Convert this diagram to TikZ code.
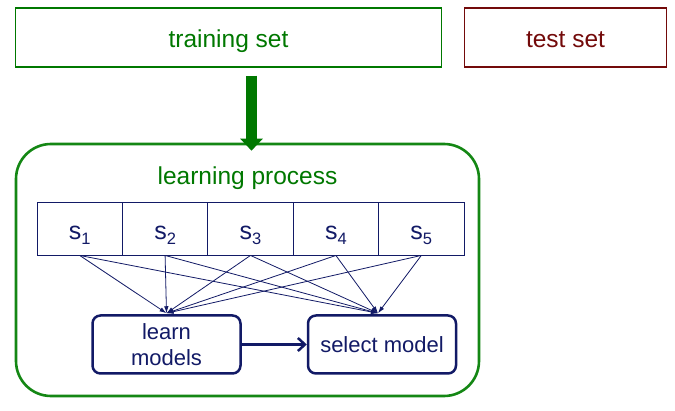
\documentclass[tikz,border=0pt]{standalone}
\usepackage{fontspec}
\setmainfont{Liberation Sans}
\usetikzlibrary{arrows.meta}
\definecolor{tgreen}{RGB}{0,120,0}
\definecolor{ogreen}{RGB}{20,135,20}
\definecolor{maroon}{RGB}{115,10,10}
\definecolor{navy}{RGB}{18,26,102}
\newcommand{\sfs}[1]{s\raisebox{-5pt}{\fontsize{16.5}{18}\selectfont #1}}
\begin{document}
\begin{tikzpicture}[x=1pt,y=-1pt,
  setbox/.style={draw, line width=1.2pt, minimum height=59pt, inner sep=0pt,
    text height=21pt, text depth=0pt,
    font=\fontsize{24.5}{28}\selectfont},
  sbox/.style={draw=navy, line width=0.9pt, minimum width=85.4pt, minimum height=53pt,
    inner sep=0pt, text=navy, text height=23pt, text depth=0pt,
    font=\fontsize{25}{28}\selectfont},
  procbox/.style={draw=navy, line width=2.5pt, rounded corners=8pt, minimum width=148pt,
    minimum height=58pt, inner sep=0pt, text=navy, align=center,
    font=\fontsize{22}{26}\selectfont},
  thin/.style={draw=navy, line width=0.8pt, -{Latex[length=7pt,width=4.5pt]}}
]
\useasboundingbox (0,0) rectangle (675,411);
\fill[white] (0,0) rectangle (675,411);
% top boxes
\node[setbox, draw=tgreen, text=tgreen, minimum width=426pt] (train) at (228.5,37.5) {training set};
\node[setbox, draw=maroon, text=maroon, minimum width=202pt] (test) at (565.5,37.5) {test set};
% outer process box
\node[draw=ogreen, line width=2.6pt, rounded corners=35pt, minimum width=463pt,
  minimum height=252pt, inner sep=0pt] (proc) at (247.5,270) {};
\node[text=tgreen, font=\fontsize{24.5}{28}\selectfont] (ptitle) at (247.5,178.5) {learning process};
% big green arrow
\draw[draw=tgreen, line width=11pt, -{Triangle[length=12pt,width=22pt]}]
  ([xshift=23pt,yshift=-8pt]train.south) -- ([xshift=4pt,yshift=-8pt]proc.north);
% s boxes
\node[sbox] (s1) at (79.7,228.5) {\sfs{1}};
\node[sbox] (s2) at (165.1,228.5) {\sfs{2}};
\node[sbox] (s3) at (250.5,228.5) {\sfs{3}};
\node[sbox] (s4) at (335.9,228.5) {\sfs{4}};
\node[sbox] (s5) at (421.3,228.5) {\sfs{5}};
% bottom boxes
\node[procbox] (learn) at (166.5,344.5) {learn\\models};
\node[procbox] (select) at (382,344.5) {select model};
\coordinate (lt) at ([yshift=1pt]learn.north);
\coordinate (st) at ([xshift=-4pt,yshift=1pt]select.north);
% thin connectors
\foreach \s in {s1,s2,s3,s4,s5}{
  \draw[thin] (\s.south) -- (lt);
  \draw[thin] (\s.south) -- (st);
}
% thick arrow
\draw[draw=navy, line width=2.5pt, -{Straight Barb[length=7pt,width=13pt]}] (learn.east) -- (select.west);
\end{tikzpicture}
\end{document}
